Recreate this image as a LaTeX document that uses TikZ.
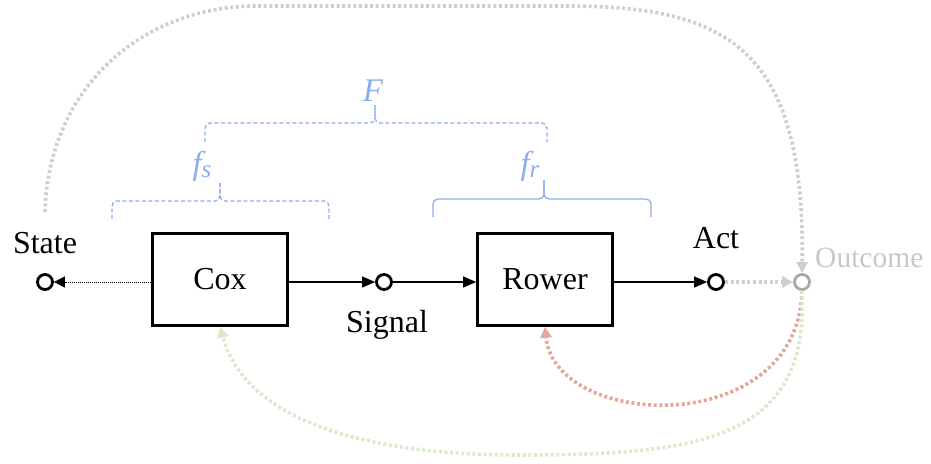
\documentclass[tikz,border=0pt]{standalone}
\usepackage{fontspec}
\setmainfont{Liberation Serif}
\usetikzlibrary{arrows.meta}
\definecolor{bracecol}{HTML}{8CADEB}
\definecolor{loopgray}{HTML}{CFCFCF}
\definecolor{outgray}{HTML}{A8A8A8}
\definecolor{outtext}{HTML}{C8C8C8}
\definecolor{redloop}{HTML}{E2A898}
\definecolor{greenloop}{HTML}{D8EBCB}
\tikzset{
  x=1pt, y=-1pt,
  big/.style={font=\fontsize{32}{36}\selectfont},
  blockbox/.style={draw, line width=2.6pt, minimum width=135pt, minimum height=92pt, big, inner sep=0pt},
  port/.style={draw, circle, line width=2.8pt, minimum size=15pt, inner sep=0pt},
  lbl/.style={big, anchor=base, inner sep=0pt},
  flow/.style={line width=1.1pt, -{Triangle[length=13pt,width=11pt]}},
  dots/.style={line width=3.6pt, dash pattern=on 3pt off 2.6pt, -{Triangle[length=11pt,width=11pt]}},
  bracepath/.style={draw=bracecol, line width=1.3pt, rounded corners=5pt},
  bracelbl/.style={text=bracecol, font=\fontsize{33}{36}\selectfont\itshape, anchor=base, inner sep=0pt},
}
\newcommand{\subsc}[1]{\raisebox{-3pt}{\fontsize{25}{26}\selectfont\itshape #1}}
\begin{document}
\begin{tikzpicture}
\useasboundingbox (0,0) rectangle (931,463);

% blocks and ports
\node[blockbox] (cox) at (220,279.5) {Cox};
\node[blockbox] (rower) at (545,279.5) {Rower};
\node[port] (state) at (45,282) {};
\node[port] (signal) at (384,282) {};
\node[port] (act) at (716,282) {};
\node[port, draw=outgray] (outcome) at (802,282) {};

% labels
\node[lbl] (statelbl) at (45,253) {State};
\node[lbl] (signallbl) at (387,332) {Signal};
\node[lbl] (actlbl) at (716,248) {Act};
\node[lbl, anchor=base west, text=outtext, font=\fontsize{29.5}{34}\selectfont] (outlbl) at (815,267) {Outcome};

% forward connectors
\draw[line width=1pt, dash pattern=on 1pt off 1pt, -{Triangle[length=11pt,width=11pt]}] (cox.west |- state) -- (state);
\draw[flow] (cox.east |- signal) -- (signal);
\draw[flow] (signal) -- (rower.west |- signal);
\draw[flow] (rower.east |- act) -- (act);
\draw[dots, draw=loopgray] (act) -- (outcome);

% big gray loop
\coordinate (loopstart) at (45,212);
\draw[dots, draw=loopgray] (loopstart) .. controls (48,90) and (140,6) .. (257,6)
  -- (567,6) .. controls (730,6) and (805,50) .. (outcome.north);

% red feedback
\draw[dots, draw=redloop] (outcome.south) .. controls (798,440) and (555,430) .. (rower.south);
% green feedback
\coordinate (gbottom) at (520,455);
\draw[dots, draw=greenloop] (outcome.south) .. controls (810,440) and (700,455) .. (gbottom)
  .. controls (320,455) and (240,400) .. (cox.south);

% braces
\draw[bracepath, dash pattern=on 4pt off 2.5pt] (112,219) -- (112,201) -- (220,201) -- (220,183);
\draw[bracepath, dash pattern=on 4pt off 2.5pt] (220,183) -- (220,201) -- (329,201) -- (329,219);
\draw[bracepath] (433,217) -- (433,199) -- (544,199) -- (544,180);
\draw[bracepath] (544,180) -- (544,199) -- (651,199) -- (651,217);
\draw[bracepath, dash pattern=on 4pt off 2.5pt] (205,142) -- (205,123) -- (375,123) -- (375,105);
\draw[bracepath, dash pattern=on 4pt off 2.5pt] (375,105) -- (375,123) -- (547,123) -- (547,142);

\node[bracelbl] (Flbl) at (373,101) {F};
\node[bracelbl] (fslbl) at (202,174) {f\subsc{s}};
\node[bracelbl] (frlbl) at (530,174) {f\subsc{r}};
\end{tikzpicture}
\end{document}
